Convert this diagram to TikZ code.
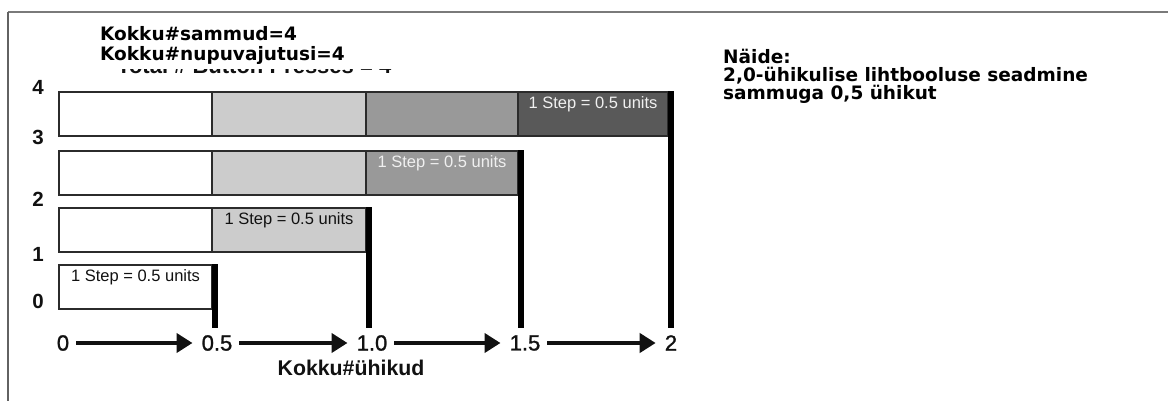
\documentclass[tikz,border=0pt]{standalone}
\usepackage{fontspec}
\setmainfont{Liberation Sans}
\newfontfamily\verd{DejaVu Sans}
\newfontfamily\axfont{Liberation Sans}[FakeBold=1.2]
\usetikzlibrary{arrows.meta,calc}
\definecolor{lg}{HTML}{CCCCCC}
\definecolor{mg}{HTML}{999999}
\definecolor{dg}{HTML}{595959}
\definecolor{edge}{HTML}{2B2B2B}
\definecolor{ink}{HTML}{111111}
\definecolor{frame}{HTML}{7A7A7A}
\begin{document}
\begin{tikzpicture}[x=1pt,y=-1pt,
  cellbox/.style={draw=edge, line width=1.6pt, minimum height=44pt, inner sep=0pt, outer sep=0pt, anchor=north west},
  steptext/.style={font=\fontsize{16.5}{18}\selectfont, anchor=north, inner sep=0pt},
  bar/.style={line width=6pt, black},
  ax/.style={font=\axfont\fontsize{22}{24}\selectfont, text=ink, inner sep=0pt},
  ylab/.style={font=\bfseries\fontsize{20.5}{22}\selectfont, text=ink, inner sep=0pt},
  flow/.style={line width=4.8pt, draw=ink, -{Triangle[length=16pt,width=19pt]}, shorten <=7pt, shorten >=9pt},
  vtext/.style={font=\verd\bfseries\fontsize{18.5}{20}\selectfont, anchor=base west, inner sep=0pt, text=black}]

\useasboundingbox (0,0) rectangle (1168,401);
\fill[white] (0,0) rectangle (1168,401);
\draw[frame, line width=2pt] (8,12) -- (1168,12);
\draw[frame!80!black, line width=1.2pt] (8,12) -- (8,401);

% header texts
\node[vtext] (s1) at (100,41) {Kokku\#sammud=4};
\node[vtext] (s2) at (100,61) {Kokku\#nupuvajutusi=4};
\begin{scope}
  \clip (100,70) rectangle (420,73.8);
  \node[font=\bfseries\fontsize{22}{24}\selectfont, anchor=base west, inner sep=0pt, text=ink] (ghost) at (117,73.4) {Total \# Button Presses = 4};
\end{scope}

\node[vtext] (n1) at (723,63.5) {Näide:};
\node[vtext] (n2) at (723,82) {2,0-ühikulise lihtbooluse seadmine};
\node[vtext] (n3) at (723,100) {sammuga 0,5 ühikut};

% y labels
\node[ylab] (y4) at (38,87) {4};
\node[ylab] (y3) at (38,137) {3};
\node[ylab] (y2) at (38,199) {2};
\node[ylab] (y1) at (38,254) {1};
\node[ylab] (y0) at (38,301) {0};

% row 4
\node[cellbox, minimum width=153pt] (r4a) at (59,92) {};
\node[cellbox, fill=lg, minimum width=154pt] (r4b) at (212,92) {};
\node[cellbox, fill=mg, minimum width=152pt] (r4c) at (366,92) {};
\node[cellbox, fill=dg, minimum width=150pt] (r4d) at (518,92) {};
% row 3
\node[cellbox, minimum width=153pt] (r3a) at (59,151) {};
\node[cellbox, fill=lg, minimum width=154pt] (r3b) at (212,151) {};
\node[cellbox, fill=mg, minimum width=152pt] (r3c) at (366,151) {};
% row 2
\node[cellbox, minimum width=153pt] (r2a) at (59,208) {};
\node[cellbox, fill=lg, minimum width=154pt] (r2b) at (212,208) {};
% row 1
\node[cellbox, minimum width=153pt] (r1a) at (59,265) {};

% step texts
\node[steptext, text=ink] (t1) at ($(r1a.north)+(0,4)$) {1 Step = 0.5 units};
\node[steptext, text=ink] (t2) at ($(r2b.north)+(0,4)$) {1 Step = 0.5 units};
\node[steptext, text=white!94!black] (t3) at ($(r3c.north)+(0,4)$) {1 Step = 0.5 units};
\node[steptext, text=white!94!black] (t4) at ($(r4d.north)+(0,4)$) {1 Step = 0.5 units};

% thick bars
\coordinate (b1) at (215,328);
\coordinate (b2) at (369,328);
\coordinate (b3) at (521,328);
\coordinate (b4) at (671,328);
\draw[bar] (215,264.2) -- (b1);
\draw[bar] (369,207.2) -- (b2);
\draw[bar] (521,150.2) -- (b3);
\draw[bar] (671,91.2) -- (b4);

% axis
\node[ax] (a0) at (63,343) {0};
\node[ax] (a1) at (217,343) {0.5};
\node[ax] (a2) at (372,343) {1.0};
\node[ax] (a3) at (525,343) {1.5};
\node[ax] (a4) at (671,343) {2};
\draw[flow] (a0) -- (a1);
\draw[flow] (a1) -- (a2);
\draw[flow] (a2) -- (a3);
\draw[flow] (a3) -- (a4);

\node[font=\bfseries\fontsize{21.3}{23}\selectfont, text=ink, inner sep=0pt] (xl) at (351,368) {Kokku\#ühikud};
\end{tikzpicture}
\end{document}
